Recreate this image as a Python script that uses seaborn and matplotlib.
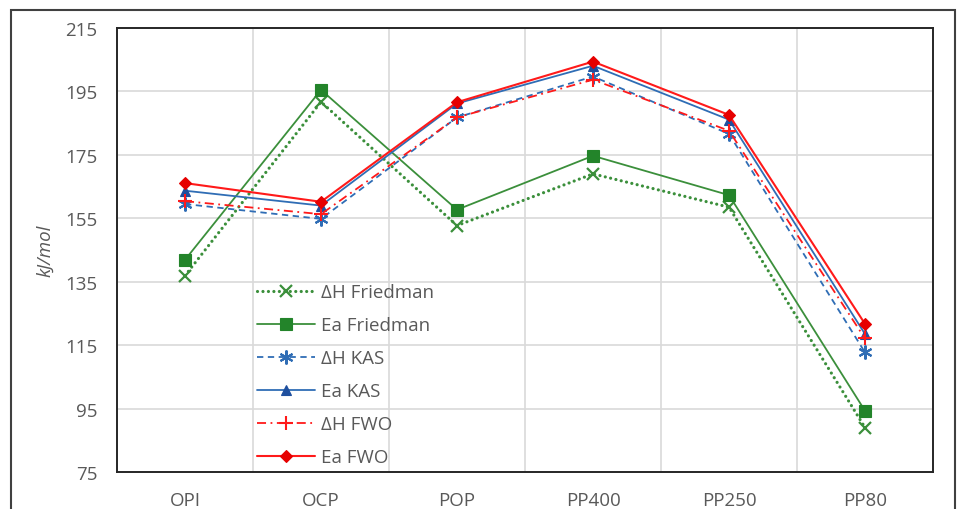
import numpy as np
import pandas as pd
import matplotlib
matplotlib.use("Agg")
import matplotlib.pyplot as plt
import seaborn as sns
from matplotlib.patches import Rectangle

# ─── DATA ───────────────────────────────────────────────────────────────────
categories = ["OPI", "OCP", "POP", "PP400", "PP250", "PP80"]

dh_friedman = [136.9, 191.7, 152.7, 169.0, 158.5, 89.0]
ea_friedman = [141.9, 195.5, 157.7, 174.7, 162.3, 94.3]
dh_kas      = [159.5, 154.8, 186.8, 199.7, 181.6, 112.7]
ea_kas      = [163.7, 159.0, 191.2, 203.1, 186.1, 118.5]
dh_fwo      = [160.4, 156.3, 186.8, 198.7, 182.6, 117.1]
ea_fwo      = [166.1, 160.2, 191.6, 204.4, 187.6, 121.7]

series_names = ["ΔH Friedman", "Ea Friedman", "ΔH KAS", "Ea KAS", "ΔH FWO", "Ea FWO"]
y_ticks = [75, 95, 115, 135, 155, 175, 195, 215]
# ─────────────────────────────────────────────────────────────────────────────

GREEN = "#3b8f3b"
GREEN_DK = "#23842a"
BLUE = "#2f6db5"
BLUE_DK = "#1f4f9e"
RED = "#ff1a1a"
RED_DK = "#e60000"
TEXT = "#595959"
FS = 13.5

STYLES = {
    "ΔH Friedman": dict(color=GREEN, linestyle=(0, (0.01, 1.7)), lw=2.3, marker="x",
                        ms=8, mew=1.6, mfc=GREEN, mec=GREEN, dash_capstyle="round"),
    "Ea Friedman": dict(color=GREEN, linestyle="-", lw=1.3, marker="s",
                        ms=8, mew=0.8, mfc=GREEN_DK, mec=GREEN_DK),
    "ΔH KAS":      dict(color=BLUE, linestyle=(0, (3.5, 2.5)), lw=1.3, marker=(6, 2, 0),
                        ms=10, mew=1.5, mfc=BLUE, mec=BLUE),
    "Ea KAS":      dict(color=BLUE, linestyle="-", lw=1.3, marker="^",
                        ms=7.5, mew=0.8, mfc=BLUE_DK, mec=BLUE_DK),
    "ΔH FWO":      dict(color=RED, linestyle=(0, (5, 2.5, 1, 2.5)), lw=1.3, marker="+",
                        ms=10, mew=1.5, mfc=RED, mec=RED),
    "Ea FWO":      dict(color=RED, linestyle="-", lw=1.5, marker="D",
                        ms=6.5, mew=0.8, mfc=RED_DK, mec=RED_DK),
}

sns.set_theme(style="white")
plt.rcParams["font.family"] = ["Open Sans", "DejaVu Sans"]

x_pos = np.arange(len(categories))
values = [dh_friedman, ea_friedman, dh_kas, ea_kas, dh_fwo, ea_fwo]

fig = plt.figure(figsize=(9.67, 5.10), dpi=100)
ax = fig.add_axes([117 / 967, 1 - 473 / 510, (933 - 117) / 967, (473 - 29) / 510])

for name, vals in zip(series_names, values):
    df = pd.DataFrame({"x": x_pos, "y": vals})
    st = STYLES[name]
    sns.lineplot(data=df, x="x", y="y", ax=ax, sort=False, label=name,
                 color=st["color"], linestyle=st["linestyle"], linewidth=st["lw"],
                 marker=st["marker"], markersize=st["ms"], markeredgewidth=st["mew"],
                 markerfacecolor=st["mfc"], markeredgecolor=st["mec"],
                 **({"dash_capstyle": st["dash_capstyle"]} if "dash_capstyle" in st else {}))

ax.set_xlim(-0.5, len(categories) - 0.5)
ax.set_ylim(y_ticks[0], y_ticks[-1])
ax.set_yticks(y_ticks)
ax.set_xticks(x_pos)
ax.set_xticklabels(categories)

# category boundary gridlines (vertical) and value gridlines
for b in np.arange(0.5, len(categories) - 0.5, 1):
    ax.axvline(b, color="#d9d9d9", lw=1.2, zorder=0)
for t in y_ticks[1:-1]:
    ax.axhline(t, color="#d9d9d9", lw=1.2, zorder=0)

for s in ax.spines.values():
    s.set_visible(True)
    s.set_color("#262626")
    s.set_linewidth(1.4)

ax.tick_params(axis="x", length=0, pad=14, labelsize=FS, labelcolor=TEXT)
ax.tick_params(axis="y", length=0, pad=14, labelsize=FS, labelcolor=TEXT)
ax.set_xlabel("")
ax.set_ylabel("kJ/mol", fontsize=FS, color=TEXT, style="italic", labelpad=8)

leg = ax.legend(loc="upper left", bbox_to_anchor=(0.172, 0.425), frameon=False,
                fontsize=FS, handlelength=3.1, handletextpad=0.3,
                labelspacing=0.8, borderaxespad=0, borderpad=0)
for t in leg.get_texts():
    t.set_color(TEXT)

# outer frame around the whole chart
fig.patches.append(Rectangle((11 / 967, -0.05), (955 - 11) / 967, 1 - 11 / 510 + 0.05,
                             transform=fig.transFigure, fill=False,
                             edgecolor="#404040", lw=1.5, clip_on=False))

fig.savefig("out.png", dpi=100)
